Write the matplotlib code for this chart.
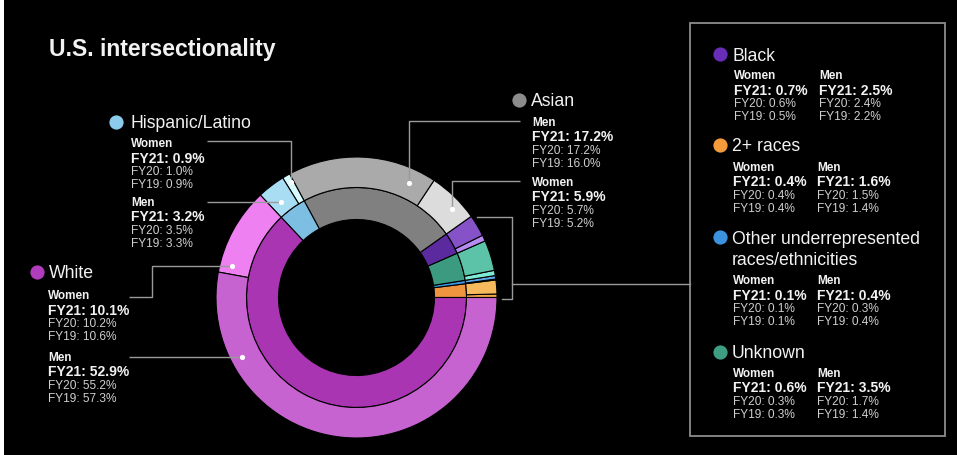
import matplotlib
matplotlib.use("Agg")
import matplotlib.pyplot as plt
import numpy as np

# ---- data -------------------------------------------------------------
race_keys = ["two", "other", "unknown", "black", "asian", "hispanic", "white"]
race_names = ["2+ races", "Other underrepresented\nraces/ethnicities", "Unknown",
              "Black", "Asian", "Hispanic/Latino", "White"]
women_fy21 = [0.4, 0.1, 0.6, 0.7, 5.9, 0.9, 10.1]
men_fy21 = [1.6, 0.4, 3.5, 2.5, 17.2, 3.2, 52.9]
women_fy20 = [0.4, 0.1, 0.3, 0.6, 5.7, 1.0, 10.2]
men_fy20 = [1.5, 0.3, 1.7, 2.4, 17.2, 3.5, 55.2]
women_fy19 = [0.4, 0.1, 0.3, 0.5, 5.2, 0.9, 10.6]
men_fy19 = [1.4, 0.4, 1.4, 2.2, 16.0, 3.3, 57.3]

# ---- colours ----------------------------------------------------------
inner_colors = ["#F0953F", "#3D93DD", "#3C9A80", "#5B2A9E", "#808080", "#7DBFE3", "#A935B2"]
women_colors = ["#F2A648", "#3D8FD8", "#7EEAD6", "#B78CF2", "#DCDCDC", "#D6FBFF", "#EE80F2"]
men_colors = ["#F6BA5C", "#5AA8E8", "#5CC3A9", "#8552C8", "#AAAAAA", "#A9DDF3", "#C763D0"]
key_colors = ["#F39A3A", "#3D92E0", "#3D9E84", "#6A2DB8", "#8C8C8C", "#8CCBEB", "#B13CBC"]

W, H = 957, 455
BG = "black"
LINE = "#9A9A9A"
TXT = "#F2F2F2"
SUB = "#CFCFCF"
FONT = "Liberation Sans"

fig = plt.figure(figsize=(W / 100, H / 100), dpi=100, facecolor=BG)
ax = fig.add_axes([0, 0, 1, 1])
ax.set_facecolor(BG)


def Y(y):
    """Convert a top-down pixel row to the axes' bottom-up coordinate."""
    return H - y


# ---- nested donut -----------------------------------------------------
cx, cy = 356.5, 297.5
r_out, r_mid, r_in = 140.5, 110.0, 78.0
totals = [w + m for w, m in zip(women_fy21, men_fy21)]
outer_vals, outer_cols = [], []
for w, m, cw, cm in zip(women_fy21, men_fy21, women_colors, men_colors):
    outer_vals += [w, m]
    outer_cols += [cw, cm]

edge = dict(edgecolor="black", linewidth=0.8)
ax.pie(totals, radius=r_mid, center=(cx, Y(cy)), startangle=0, counterclock=True,
       colors=inner_colors, wedgeprops=dict(width=r_mid - r_in, **edge))
ax.pie(outer_vals, radius=r_out, center=(cx, Y(cy)), startangle=0, counterclock=True,
       colors=outer_cols, wedgeprops=dict(width=r_out - r_mid, **edge))

ax.set_xlim(0, W)
ax.set_ylim(0, H)
ax.set_aspect("auto")
ax.axis("off")

# angular extent of every outer wedge
cum = np.concatenate([[0], np.cumsum(outer_vals)]) / sum(outer_vals) * 360.0


def anchor(race, sex, frac, r=128.0):
    """Point inside an outer wedge (sex 0 = women, 1 = men)."""
    i = 2 * race_keys.index(race) + sex
    ang = np.radians(cum[i] + frac * (cum[i + 1] - cum[i]))
    return cx + r * np.cos(ang), cy - r * np.sin(ang)


def leader(points):
    xs = [p[0] for p in points]
    ys = [Y(p[1]) for p in points]
    ax.plot(xs, ys, color=LINE, lw=1.0, solid_capstyle="butt", zorder=3)
    ax.scatter([xs[-1]], [ys[-1]], s=14, color="white", zorder=4, linewidths=0)


# Hispanic/Latino women: up then left
hx, hy = anchor("hispanic", 0, 0.31, 133)
leader([(207, 140.7), (hx, 140.7), (hx, hy)])
# Hispanic/Latino men: straight
hx, hy = anchor("hispanic", 1, 0.57, 122)
leader([(207, hy), (hx, hy)])
# White women: elbow
wx, wy = anchor("white", 0, 0.897)
leader([(129, 296.7), (151.7, 296.7), (151.7, wy), (wx, wy)])
# White men: straight
wx, wy = anchor("white", 1, 0.198, 129)
leader([(129, wy), (wx, wy)])
# Asian men: up then right
ax_, ay_ = anchor("asian", 1, 0.142, 126.5)
leader([(520, 120.7), (ax_, 120.7), (ax_, ay_)])
# Asian women: up then right
ax_, ay_ = anchor("asian", 0, 0.354, 130)
leader([(520, 181), (ax_, 181), (ax_, ay_)])

# bracket for the four smaller groups
ax.plot([477, 512, 512, 502], [Y(217), Y(217), Y(299), Y(299)], color=LINE, lw=1.0, zorder=3)
ax.plot([512, 690], [Y(284), Y(284)], color=LINE, lw=1.0, zorder=3)

# side panel frame
ax.add_patch(plt.Rectangle((690, Y(436)), 945 - 690, 436 - 23, fill=False,
                           edgecolor="#8C8C8C", lw=1.3, zorder=2))

# narrow light strip on the left edge
ax.add_patch(plt.Rectangle((0, 0), 3.5, H, color="white", lw=0, zorder=5))


# ---- text -------------------------------------------------------------
def text(x, yc, s, size, bold=False, color=TXT):
    cap = 0.716 * size * 100 / 72
    ax.text(x, Y(yc + cap / 2), s, fontsize=size, color=color, family=FONT,
            fontweight="bold" if bold else "normal", ha="left", va="baseline", zorder=6)


def header(race, dx, dy, tx):
    i = race_keys.index(race)
    ax.scatter([dx], [Y(dy)], s=105, color=key_colors[i], zorder=6, linewidths=0)
    for k, line in enumerate(race_names[i].split("\n")):
        text(tx, dy + 21 * k, line, 12.7)


def block(race, sex, x, y):
    i = race_keys.index(race)
    if sex == 0:
        who, v21, v20, v19 = "Women", women_fy21[i], women_fy20[i], women_fy19[i]
    else:
        who, v21, v20, v19 = "Men", men_fy21[i], men_fy20[i], men_fy19[i]
    text(x, y, who, 8.5, bold=True)
    text(x, y + 14.7, f"FY21: {v21:.1f}%", 10, bold=True)
    text(x, y + 27.8, f"FY20: {v20:.1f}%", 8.6, color=SUB)
    text(x, y + 40.8, f"FY19: {v19:.1f}%", 8.6, color=SUB)


text(49, 48, "U.S. intersectionality", 16.6, bold=True)

header("hispanic", 116, 122, 130)
block("hispanic", 0, 131, 143)
block("hispanic", 1, 131, 201.7)

header("white", 37, 272, 49)
block("white", 0, 48, 295)
block("white", 1, 48, 356.7)

header("asian", 519, 100, 531)
block("asian", 1, 532, 121.7)
block("asian", 0, 532, 181.7)

header("black", 720, 54.3, 733)
block("black", 0, 734, 75)
block("black", 1, 819, 75)

header("two", 720, 145, 732)
block("two", 0, 733, 166.7)
block("two", 1, 817, 166.7)

header("other", 720, 237.3, 732)
block("other", 0, 733, 280)
block("other", 1, 817, 280)

header("unknown", 720, 351.7, 732)
block("unknown", 0, 733, 372.7)
block("unknown", 1, 817, 372.7)

fig.savefig("out.png", dpi=100, facecolor=BG)
